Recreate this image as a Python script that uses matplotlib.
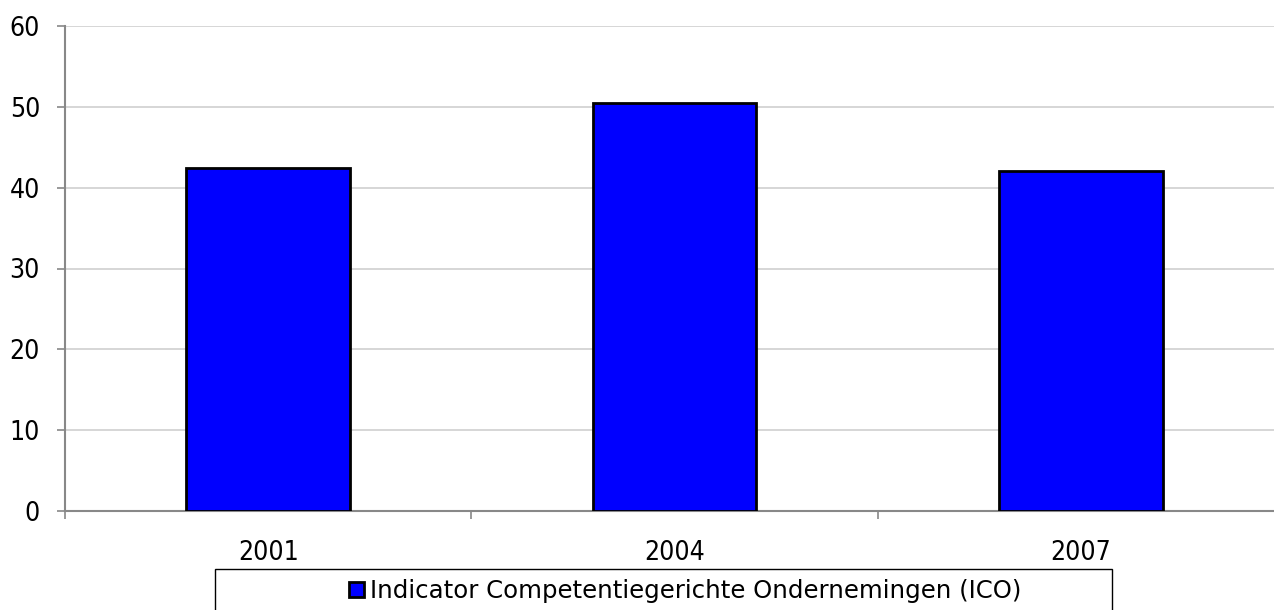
import matplotlib.pyplot as plt
from matplotlib.patches import Rectangle

# data
years = ['2001', '2004', '2007']
ico = [42.4, 50.5, 42.1]
series_name = 'Indicator Competentiegerichte Ondernemingen (ICO)'

plt.rcParams['font.family'] = ['DejaVu Sans']
plt.rcParams['font.stretch'] = 'condensed'
plt.rcParams['font.size'] = 19

fig = plt.figure(figsize=(12.74, 6.10), dpi=100)
# plot area runs a bit past the right edge of the picture, as in the original
ax = fig.add_axes([65 / 1274, (610 - 511) / 610, (1284 - 65) / 1274, (511 - 26) / 610])

x = range(len(years))
bars = ax.bar(x, ico, width=0.403, color='#0000ff', edgecolor='black', linewidth=2,
              label=series_name, zorder=3)

ax.set_xlim(-0.5, 2.5)
ax.set_ylim(0, 60)
ax.set_yticks(range(0, 61, 10))
ax.yaxis.grid(True, color='#d0d0d0', linewidth=1.2, zorder=0)

ax.set_xticks(list(x))
ax.set_xticklabels(years)
ax.set_xticks([-0.5, 0.5, 1.5, 2.5], minor=True)
ax.tick_params(axis='x', which='major', length=0, pad=21)
ax.tick_params(axis='x', which='minor', length=6, color='#888888', width=1.2)
ax.tick_params(axis='y', length=6, color='#888888', width=1.2, pad=12)

for s in ['top', 'right']:
    ax.spines[s].set_visible(False)
for s in ['left', 'bottom']:
    ax.spines[s].set_color('#888888')
    ax.spines[s].set_linewidth(1.5)

# legend box, running off the bottom of the picture
fig.patches.append(Rectangle((215 / 1274, -0.05), (1112 - 215) / 1274, (0.05 + 41 / 610),
                             transform=fig.transFigure, fill=False, edgecolor='black',
                             linewidth=1))
leg = fig.legend(handles=[bars], labels=[series_name], loc='center',
                 bbox_to_anchor=(685 / 1274, 1 - 591 / 610), frameon=False,
                 handlelength=0.6, handleheight=0.6, handletextpad=0.25,
                 prop={'family': 'DejaVu Sans', 'stretch': 'normal', 'size': 17.6})

fig.savefig('out.png', dpi=100)
